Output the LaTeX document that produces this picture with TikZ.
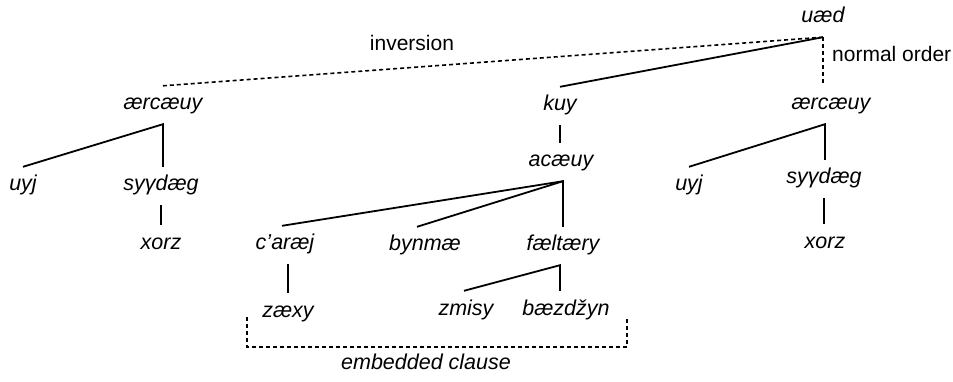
\documentclass[tikz,border=0pt]{standalone}
\usepackage{fontspec}
\setmainfont{Liberation Sans}
\begin{document}
\begin{tikzpicture}[x=1pt,y=-1pt,
  word/.style={font=\fontsize{21.5}{24}\selectfont\itshape, inner xsep=0pt,
    inner ysep=9pt, text height=15pt, text depth=5pt, anchor=base},
  plain/.style={font=\fontsize{21}{24}\selectfont, inner sep=0pt, anchor=base},
  branch/.style={line width=1.8pt},
  dotted link/.style={line width=1.6pt, dash pattern=on 4pt off 3pt}]
\useasboundingbox (0,0) rectangle (953,382);

% root and the two orders (positions are baselines)
\node[word] (uaed) at (823,23) {uæd};
\node[plain] (inv) at (412,51) {inversion};
\node[plain, anchor=base west] (norm) at (832,62) {normal order};

% inverted order
\node[word] (aercL) at (163,110) {ærcæuy};
\node[word] (uyjL) at (23,191) {uyj};
\node[word] (sygL) at (161,191) {syγdæg};
\node[word] (xorzL) at (161,249) {xorz};

% main clause
\node[word] (kuy) at (560,111) {kuy};
\node[word] (acaeuy) at (561,167) {acæuy};
\node[word] (caraej) at (285,250) {c'aræj};
\node[word] (bynmae) at (425,251) {bynmæ};
\node[word] (faeltaery) at (563,251) {fæltæry};
\node[word] (zaexy) at (288,317) {zæxy};
\node[word] (zmisy) at (466,315) {zmisy};
\node[word] (baezdzyn) at (566,315) {bæzdžyn};

% normal order
\node[word] (aercR) at (831,110) {ærcæuy};
\node[word] (uyjR) at (689,191) {uyj};
\node[word] (sygR) at (824,184) {syγdæg};
\node[word] (xorzR) at (825,248) {xorz};

% embedded clause bracket
\coordinate (brL) at (247,317);
\coordinate (brR) at (627,317);
\node[word, inner ysep=0pt] (emb) at (426,369) {embedded clause};

% connectors from the root
\draw[dotted link] (uaed.south) -- (aercL.north);
\draw[dotted link] (uaed.south) -- (uaed.south |- aercR.north);
\draw[branch] (uaed.south) -- (kuy.north);

% inverted subtree
\draw[branch] (uyjL.north) -- (aercL.south) -- (aercL.south |- sygL.north);
\draw[branch] (sygL.south) -- (sygL.south |- xorzL.north);

% main clause subtree
\draw[branch] (kuy.south) -- (kuy.south |- acaeuy.north);
\draw[branch] ([xshift=-3pt]caraej.north) -- ([xshift=2pt]acaeuy.south)
  -- ([xshift=2pt]acaeuy.south |- faeltaery.north);
\draw[branch] ([xshift=-8pt]bynmae.north) -- ([xshift=2pt]acaeuy.south);
\draw[branch] (zaexy.north |- caraej.south) -- (zaexy.north);
\draw[branch] ([xshift=-2pt]zmisy.north) -- ([xshift=-3pt]faeltaery.south)
  -- ([xshift=-3pt]faeltaery.south |- baezdzyn.north);

% normal-order subtree
\draw[branch] (uyjR.north) -- ([xshift=-6pt]aercR.south)
  -- ([xshift=-6pt]aercR.south |- sygR.north);
\draw[branch] (sygR.south) -- (sygR.south |- xorzR.north);

% bracket
\draw[dotted link] (brL) -- (brL |- 0,347) -- (brR |- 0,347) -- (brR);
\end{tikzpicture}
\end{document}
